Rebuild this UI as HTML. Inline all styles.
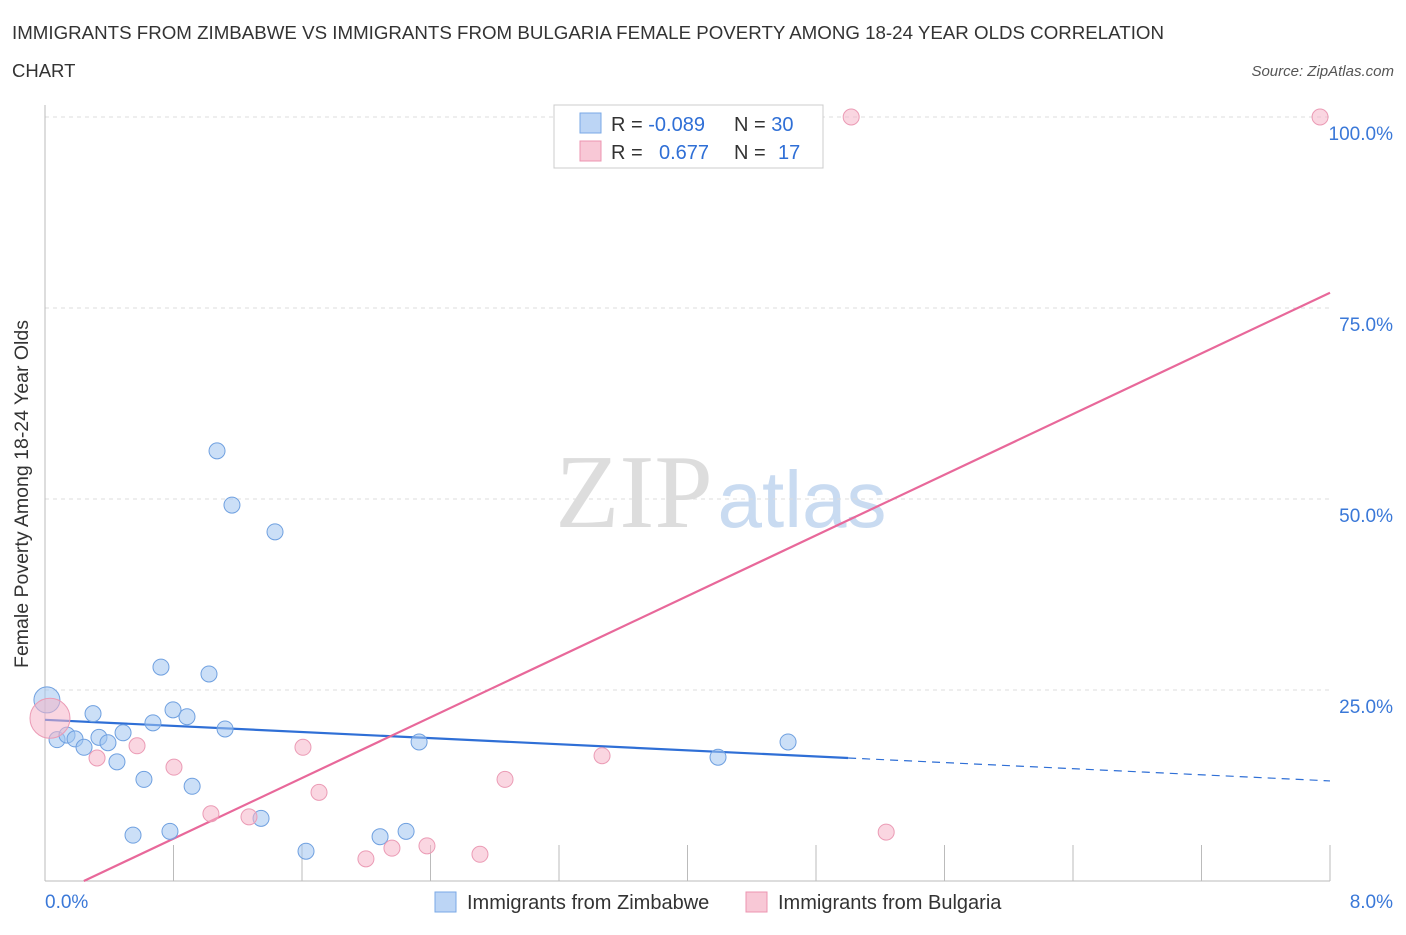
<!DOCTYPE html>
<html><head><meta charset="utf-8">
<style>
body{margin:0;background:#fff;font-family:"Liberation Sans",sans-serif;}
svg text{font-family:"Liberation Sans",sans-serif;}
</style></head>
<body>
<svg id="chart" width="1406" height="930" xmlns="http://www.w3.org/2000/svg">
<text x="12" y="39" font-size="18.5" fill="#333" textLength="1152" lengthAdjust="spacingAndGlyphs">IMMIGRANTS FROM ZIMBABWE VS IMMIGRANTS FROM BULGARIA FEMALE POVERTY AMONG 18-24 YEAR OLDS CORRELATION</text>
<text x="12" y="77" font-size="18.5" fill="#333">CHART</text>
<text x="1394" y="76" font-size="15" fill="#555" font-style="italic" text-anchor="end">Source: ZipAtlas.com</text>
<text x="28" y="494" font-size="19.5" fill="#333" text-anchor="middle" transform="rotate(-90 28 494)">Female Poverty Among 18-24 Year Olds</text>
<g>
<text x="634" y="527" font-size="105" fill="#ddd" text-anchor="middle" style="font-family:'Liberation Serif',serif">ZIP</text>
<text x="802" y="527" font-size="80" fill="#c9dbf1" text-anchor="middle">atlas</text>
</g>
<g id="grid"></g><g id="axes"></g><g id="lines"></g><g id="points"></g>
<g>
<rect x="554" y="105" width="269" height="63" fill="#fff" stroke="#ccc"/>
<rect x="580" y="113" width="21" height="20" fill="#bcd5f5" stroke="#7aa8e6"/>
<rect x="580" y="141" width="21" height="20" fill="#f8c8d6" stroke="#ec94b0"/>
<text x="611" y="131" font-size="20" fill="#333">R = <tspan fill="#2f6fd6">-0.089</tspan></text>
<text x="734" y="131" font-size="20" fill="#333">N = <tspan fill="#2f6fd6">30</tspan></text>
<text x="611" y="159" font-size="20" fill="#333">R = <tspan fill="#2f6fd6" x="659">0.677</tspan></text>
<text x="734" y="159" font-size="20" fill="#333">N = <tspan fill="#2f6fd6" x="778">17</tspan></text>
</g>
<g>
<rect x="435" y="892" width="21" height="20" fill="#bcd5f5" stroke="#7aa8e6"/>
<text x="467" y="909" font-size="20" fill="#333">Immigrants from Zimbabwe</text>
<rect x="746" y="892" width="21" height="20" fill="#f8c8d6" stroke="#ec94b0"/>
<text x="778" y="909" font-size="20" fill="#333">Immigrants from Bulgaria</text>
</g>
</svg>
<script>
const xTicks=[0,0.8,1.6,2.4,3.2,4.0,4.8,5.6,6.4,7.2,8.0];
const yTicks=[25,50,75,100];
const yTickLabels=["25.0%","50.0%","75.0%","100.0%"];
const xEndLabels=["0.0%","8.0%"];
const zimX=[0.012,0.075,0.137,0.187,0.243,0.299,0.336,0.392,0.448,0.486,0.548,0.616,0.672,0.722,0.778,0.797,0.884,0.916,1.021,1.071,1.121,1.164,1.345,1.432,1.625,2.086,2.248,2.329,4.190,4.626];
const zimY=[23.7,18.5,19.1,18.6,17.5,21.9,18.8,18.1,15.6,19.4,6.0,13.3,20.7,28.0,6.5,22.4,21.5,12.4,27.1,56.3,19.9,49.2,8.2,45.7,3.9,5.8,6.5,18.2,16.2,18.2];
const bulX=[0.031,0.324,0.573,0.803,1.033,1.270,1.606,1.706,1.998,2.160,2.378,2.708,2.864,3.468,5.019,5.237,7.938];
const bulY=[21.3,16.1,17.7,14.9,8.8,8.4,17.5,11.6,2.9,4.3,4.6,3.5,13.3,16.4,100,6.4,100];
const zimTrend=[21.1,13.1];
const zimSolidEnd=5.0;
const bulTrend=[-2.4,77.0];
const NS="http://www.w3.org/2000/svg";
const X=v=>45+v/8*1285, Y=v=>881-v/100*764;
function mk(tag,attrs,parent){const e=document.createElementNS(NS,tag);for(const k in attrs)e.setAttribute(k,attrs[k]);document.getElementById(parent).appendChild(e);return e;}
yTicks.forEach((t,i)=>{
 const l=mk('line',{x1:45,x2:1330,y1:Y(t),y2:Y(t),stroke:'#ddd','stroke-dasharray':'4,4'},'grid');
 
 
 const tx=mk('text',{x:1393,y:Y(t)+23,'font-size':19,fill:'#3a78d8','text-anchor':'end'},'axes');
 tx.textContent=yTickLabels[i];
 
 
});
const ax=mk('line',{x1:45,x2:45,y1:105,y2:881,stroke:'#bbb'},'axes');


const bx=mk('line',{x1:45,x2:1330,y1:881,y2:881,stroke:'#bbb'},'axes');


xTicks.forEach(t=>{
 const l=mk('line',{x1:X(t),x2:X(t),y1:881,y2:t===0?881:845,stroke:'#bbb'},'axes');
 
 
});
[[0,'start',45],[8,'end',1393]].forEach((d,i)=>{
 const tx=mk('text',{x:d[2],y:908,'font-size':19,fill:'#3a78d8','text-anchor':d[1]},'axes');
 tx.textContent=xEndLabels[i];
 
 
});
const lz=v=>zimTrend[0]+(zimTrend[1]-zimTrend[0])*v/8;
const lb=v=>bulTrend[0]+(bulTrend[1]-bulTrend[0])*v/8;
let l1=mk('line',{x1:X(0),y1:Y(lz(0)),x2:X(zimSolidEnd),y2:Y(lz(zimSolidEnd)),stroke:'#2f6fd6','stroke-width':2.2},'lines');


let l2=mk('line',{x1:X(zimSolidEnd),y1:Y(lz(zimSolidEnd)),x2:X(8),y2:Y(lz(8)),stroke:'#2f6fd6','stroke-width':1.2,'stroke-dasharray':'8,6'},'lines');


const x0=-bulTrend[0]/(bulTrend[1]-bulTrend[0])*8;
let l3=mk('line',{x1:X(x0),y1:Y(0),x2:X(8),y2:Y(lb(8)),stroke:'#e8689a','stroke-width':2.2},'lines');


zimX.forEach((v,i)=>{
 const c=mk('circle',{cx:X(v),cy:Y(zimY[i]),r:i===0?13:8,fill:'rgba(160,196,240,0.55)',stroke:'#6fa0e0','stroke-width':1},'points');
 
 
});
bulX.forEach((v,i)=>{
 const c=mk('circle',{cx:X(v),cy:Y(bulY[i]),r:i===0?20:8,fill:'rgba(246,180,200,0.55)',stroke:'#eb9bb5','stroke-width':1},'points');
 
 
});
</script>
</body></html>
